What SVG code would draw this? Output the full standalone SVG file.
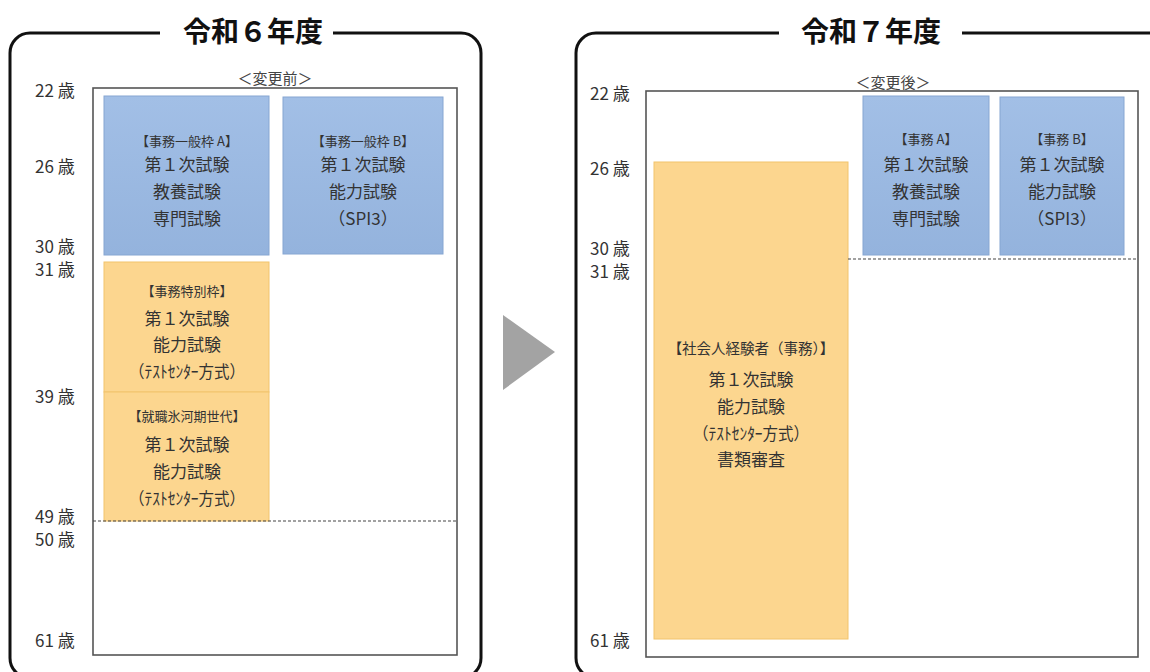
<svg xmlns="http://www.w3.org/2000/svg" width="1150" height="672" viewBox="0 0 1150 672">
<style>
  text { font-family: "Noto Sans CJK JP", "Noto Sans", sans-serif; fill: #333; dominant-baseline: central; }
  .title { font-size: 28px; font-weight: 700; fill: #111; text-anchor: middle; }
  .frame { fill: none; stroke: #111; stroke-width: 3; }
  .chart { fill: #fff; stroke: #555; stroke-width: 1.6; }
  .age { font-size: 17px; fill: #333; }
  .cap { font-size: 15px; text-anchor: middle; fill: #444; }
  .blue { fill: url(#gBlue); stroke: #86a6d2; stroke-width: 1; }
  .orange { fill: #fcd68f; stroke: #f2c46c; stroke-width: 1; }
  .hd { font-size: 13px; text-anchor: middle; }
  .tx { font-size: 17px; text-anchor: middle; }
  .dash { stroke: #444; stroke-width: 1.2; stroke-dasharray: 3 2; }
</style>
<defs>
  <linearGradient id="gBlue" x1="0" y1="0" x2="0" y2="1">
    <stop offset="0" stop-color="#a2bfe6"/>
    <stop offset="1" stop-color="#94b3dd"/>
  </linearGradient>
</defs>
<rect x="0" y="0" width="1150" height="672" fill="#fff"/>

<!-- Left panel: 令和6年度 -->
<g id="panel-r6">
  <path class="frame" d="M160,33 H30 A20,20 0 0 0 10,53 V658 A20,20 0 0 0 30,678 H461 A20,20 0 0 0 481,658 V53 A20,20 0 0 0 461,33 H333"/>
  <text class="title" x="253" y="30">令和６年度</text>
  <text class="cap" x="275" y="77">＜変更前＞</text>
  <rect class="chart" x="93" y="88" width="364" height="567"/>
  <g id="ages-r6">
    <text class="age" x="35" y="89">22 歳</text>
    <text class="age" x="35" y="165">26 歳</text>
    <text class="age" x="35" y="245">30 歳</text>
    <text class="age" x="35" y="268">31 歳</text>
    <text class="age" x="35" y="395">39 歳</text>
    <text class="age" x="35" y="515">49 歳</text>
    <text class="age" x="35" y="538">50 歳</text>
    <text class="age" x="35" y="639">61 歳</text>
  </g>
  <g id="r6-jimu-a">
    <rect class="blue" x="104" y="96" width="165" height="159"/>
    <text class="hd" x="187" y="140">【事務一般枠 A】</text>
    <text class="tx" x="187" y="163">第１次試験</text>
    <text class="tx" x="187" y="190">教養試験</text>
    <text class="tx" x="187" y="217">専門試験</text>
  </g>
  <g id="r6-jimu-b">
    <rect class="blue" x="283" y="97" width="160" height="157"/>
    <text class="hd" x="363" y="140">【事務一般枠 B】</text>
    <text class="tx" x="363" y="163">第１次試験</text>
    <text class="tx" x="363" y="190">能力試験</text>
    <text class="tx" x="363" y="217">（SPI3）</text>
  </g>
  <g id="r6-tokubetsu">
    <rect class="orange" x="104" y="262" width="165" height="130"/>
    <text class="hd" x="187" y="290">【事務特別枠】</text>
    <text class="tx" x="187" y="317">第１次試験</text>
    <text class="tx" x="187" y="343">能力試験</text>
    <text class="tx" x="187" y="370" textLength="116" lengthAdjust="spacingAndGlyphs">（ﾃｽﾄｾﾝﾀｰ方式）</text>
  </g>
  <g id="r6-hyogaki">
    <rect class="orange" x="104" y="392" width="165" height="129"/>
    <text class="hd" x="187" y="415">【就職氷河期世代】</text>
    <text class="tx" x="187" y="443">第１次試験</text>
    <text class="tx" x="187" y="470">能力試験</text>
    <text class="tx" x="187" y="497" textLength="116" lengthAdjust="spacingAndGlyphs">（ﾃｽﾄｾﾝﾀｰ方式）</text>
  </g>
  <line class="dash" x1="93" y1="521" x2="457" y2="521"/>
</g>

<!-- Right panel: 令和7年度 -->
<g id="panel-r7">
  <path class="frame" d="M779,33 H596 A20,20 0 0 0 576,53 V658 A20,20 0 0 0 596,678 H1148 A20,20 0 0 0 1168,658 V53 A20,20 0 0 0 1148,33 H962"/>
  <text class="title" x="871" y="30">令和７年度</text>
  <text class="cap" x="893" y="81">＜変更後＞</text>
  <rect class="chart" x="646" y="91" width="492" height="566"/>
  <g id="ages-r7">
    <text class="age" x="590" y="92">22 歳</text>
    <text class="age" x="590" y="167">26 歳</text>
    <text class="age" x="590" y="247">30 歳</text>
    <text class="age" x="590" y="270">31 歳</text>
    <text class="age" x="590" y="639">61 歳</text>
  </g>
  <g id="r7-shakaijin">
    <rect class="orange" x="654" y="162" width="194" height="477"/>
    <text class="hd" x="751" y="347" style="font-size:14.5px">【社会人経験者（事務）】</text>
    <text class="tx" x="751" y="378">第１次試験</text>
    <text class="tx" x="751" y="405">能力試験</text>
    <text class="tx" x="751" y="432" textLength="116" lengthAdjust="spacingAndGlyphs">（ﾃｽﾄｾﾝﾀｰ方式）</text>
    <text class="tx" x="751" y="458">書類審査</text>
  </g>
  <g id="r7-jimu-a">
    <rect class="blue" x="863" y="96" width="126" height="159"/>
    <text class="hd" x="926" y="138">【事務 A】</text>
    <text class="tx" x="926" y="163">第１次試験</text>
    <text class="tx" x="926" y="190">教養試験</text>
    <text class="tx" x="926" y="217">専門試験</text>
  </g>
  <g id="r7-jimu-b">
    <rect class="blue" x="1000" y="97" width="124" height="158"/>
    <text class="hd" x="1062" y="138">【事務 B】</text>
    <text class="tx" x="1062" y="163">第１次試験</text>
    <text class="tx" x="1062" y="190">能力試験</text>
    <text class="tx" x="1062" y="217">（SPI3）</text>
  </g>
  <line class="dash" x1="848" y1="259" x2="1138" y2="259"/>
</g>

<!-- Connector: transition arrow -->
<g id="connectors">
  <polygon points="503,315 555,352 503,390" fill="#a3a3a3"/>
</g>
</svg>
